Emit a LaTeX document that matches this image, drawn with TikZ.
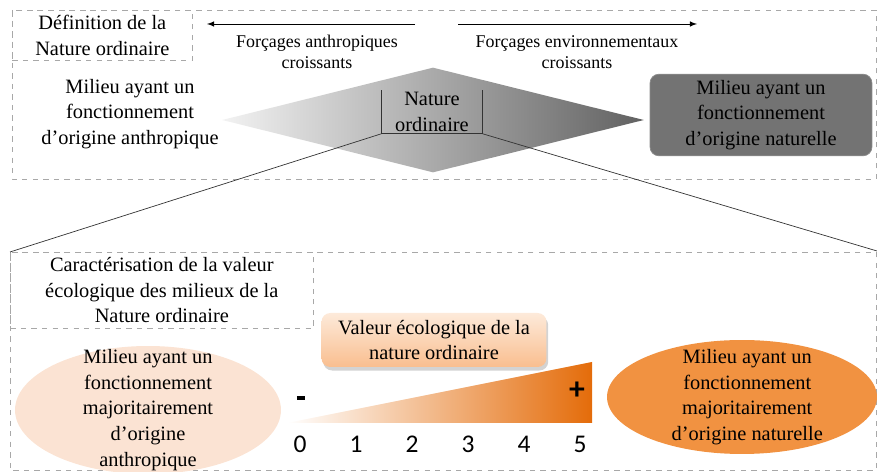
\documentclass[tikz,border=0pt]{standalone}
\usepackage{fontspec}
\setmainfont{Liberation Serif}
\newfontfamily\numfont{Carlito}
\usetikzlibrary{arrows,shapes,shadows,calc,positioning}
\definecolor{peach}{HTML}{FBE3D3}
\definecolor{orangeA}{HTML}{F19241}
\definecolor{orangeB}{HTML}{E46C0A}
\definecolor{boxtop}{HTML}{FDEADA}
\definecolor{boxbot}{HTML}{F9BE8F}
\definecolor{framegray}{HTML}{A8A8A8}
\tikzset{
    frame/.style = {draw=framegray, dashed, thin},
    titlebox/.style = {frame, anchor=north west, align=center, inner sep=0pt},
    txt/.style = {align=center, font=\fontsize{11.6}{14.6}\selectfont},
    small/.style = {align=center, font=\fontsize{10.2}{11.6}\selectfont},
    num/.style = {font=\numfont\fontsize{14.5}{14.5}\selectfont},
    sign/.style = {font=\numfont\bfseries\fontsize{18}{18}\selectfont},
    link/.style = {draw=black!80, thin}
}

\begin{document}
\begin{tikzpicture}[x=0.02cm, y=-0.02cm, >=latex]
        \useasboundingbox (0,0) rectangle (877,472);
        % haut : definition
        \draw[frame] (12,10) rectangle (876,179);
        \node [titlebox, txt, minimum width=3.6cm, minimum height=1cm] (def) at (12,10) {Définition de la\\Nature ordinaire};
        \coordinate (aL) at (207,24);
        \coordinate (aR) at (415,24);
        \draw[->] (aR) -- (aL);
        \coordinate (bL) at (458,24);
        \coordinate (bR) at (697,24);
        \draw[->] (bL) -- (bR);
        \node [small] (fanth) at (317,52) {Forçages anthropiques\\croissants};
        \node [small] (fenv) at (577,52) {Forçages environnementaux\\croissants};
        \node [txt] (anthr) at (130,114) {Milieu ayant un\\fonctionnement\\d'origine anthropique};
        \node [diamond, minimum width=8.44cm, minimum height=2.1cm, inner sep=0pt, left color=black!5, right color=black!62] (dia) at (433,120) {};
        \node [txt, minimum width=2.02cm, minimum height=0.86cm, inner sep=0pt] (nat) at (432,112) {Nature\\ordinaire};
        \draw[link] (nat.north west) -- (nat.south west) -- (nat.south east) -- (nat.north east);
        \node [txt, rounded corners=5pt, fill=black!55, draw=black!45, minimum width=4.44cm, minimum height=1.5cm] (natur) at (761,115) {Milieu ayant un\\fonctionnement\\d'origine naturelle};
        % bas : caracterisation
        \draw[frame] (10,252) rectangle (876,470);
        \coordinate (bNW) at (10,252);
        \coordinate (bNE) at (877,251);
        \draw[link] (nat.south west) -- (bNW);
        \draw[link] (nat.south east) -- (bNE);
        \node [titlebox, txt, minimum width=6.06cm, minimum height=1.52cm] (car) at (10,252) {Caractérisation de la valeur\\écologique des milieux de la\\Nature ordinaire};
        \node [ellipse, fill=peach, minimum width=5.32cm, minimum height=2.56cm, label={[txt]center:Milieu ayant un\\fonctionnement\\majoritairement\\d'origine\\anthropique}] (ellanth) at (148,410) {};
        \node [ellipse, fill=orangeA, minimum width=5.4cm, minimum height=2.28cm, label={[txt, xshift=3pt]center:Milieu ayant un\\fonctionnement\\majoritairement\\d'origine naturelle}] (ellnat) at (742,397) {};
        \node [txt, rounded corners=5pt, top color=boxtop, bottom color=boxbot, drop shadow={opacity=0.35, shadow xshift=1pt, shadow yshift=-2pt}, minimum width=4.5cm, minimum height=1.08cm] (val) at (434,340) {Valeur écologique de la\\nature ordinaire};
        \coordinate (w0) at (287,423);
        \coordinate (w1) at (592,362);
        \coordinate (w2) at (592,423);
        \shade[left color=white, right color=orangeB] (w0) -- (w1) -- (w2) -- cycle;
        \node [sign] (minus) at (301,398) {\rule{4.6pt}{2.4pt}};
        \node [sign] (plus) at (577,391) {+};
        \foreach \v in {0,...,5}
            \node [num] (n\v) at (300+56*\v,444) {\v};
    \end{tikzpicture}
\end{document}
